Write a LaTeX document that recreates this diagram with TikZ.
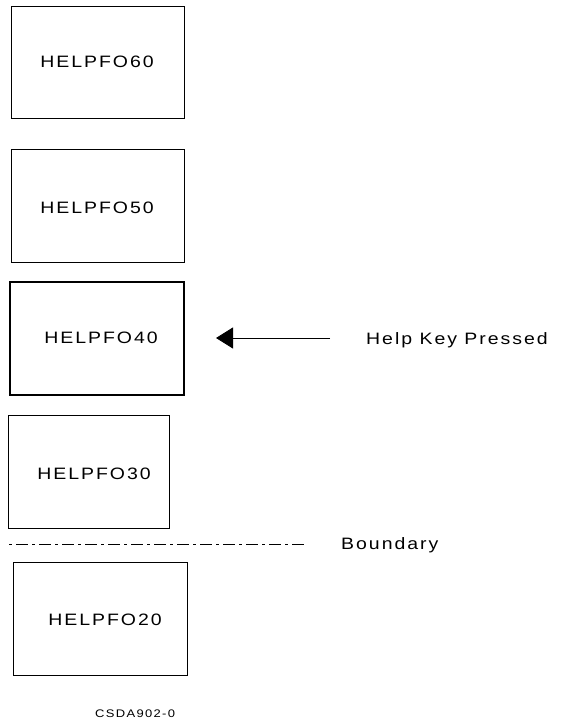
\documentclass[tikz,border=0pt]{standalone}
\usepackage{fontspec}
\setmainfont{Liberation Sans}[LetterSpace=12,FakeStretch=1.18]
\usetikzlibrary{arrows.meta}
\begin{document}
\begin{tikzpicture}[x=1pt,y=-1pt,
  pagebox/.style={draw=black,line width=0.9pt},
  curbox/.style={draw=black,line width=1.8pt},
  lbl/.style={font=\fontsize{16.5}{18}\selectfont,inner sep=0pt},
  small/.style={font=\fontsize{11}{13}\selectfont,inner sep=0pt}]
\useasboundingbox (0,0) rectangle (563,719);
% boxes
\draw[pagebox] (11,6) rectangle (184,118);
\node[lbl] (t60) at (97,62) {HELPFO60};
\draw[pagebox] (11,149) rectangle (184,262);
\node[lbl] (t50) at (97,208) {HELPFO50};
\draw[curbox] (10,282) rectangle (184,395);
\node[lbl] (t40) at (101,338) {HELPFO40};
\coordinate (tip) at (216,338);
\draw[pagebox] (8,415) rectangle (169,528);
\node[lbl] (t30) at (94,474) {HELPFO30};
\draw[pagebox] (13,562) rectangle (187,675);
\node[lbl] (t20) at (105,620) {HELPFO20};
% arrow
\coordinate (astart) at (330,338);
\draw[line width=0.9pt,-{Triangle[length=17pt,width=21pt]}] (astart) -- (tip);
\node[lbl,anchor=base west] (help) at (366,344) {Help Key Pressed};
% boundary
\coordinate (b1) at (9,544);
\coordinate (b2) at (305,544);
\draw[line width=0.9pt,dash pattern=on 3pt off 4pt on 12pt off 4pt] (b1) -- (b2);
\node[lbl,anchor=base west] (bnd) at (341,549.5) {Boundary};
\node[small,anchor=base west] (code) at (95,717) {CSDA902-0};
\end{tikzpicture}
\end{document}
